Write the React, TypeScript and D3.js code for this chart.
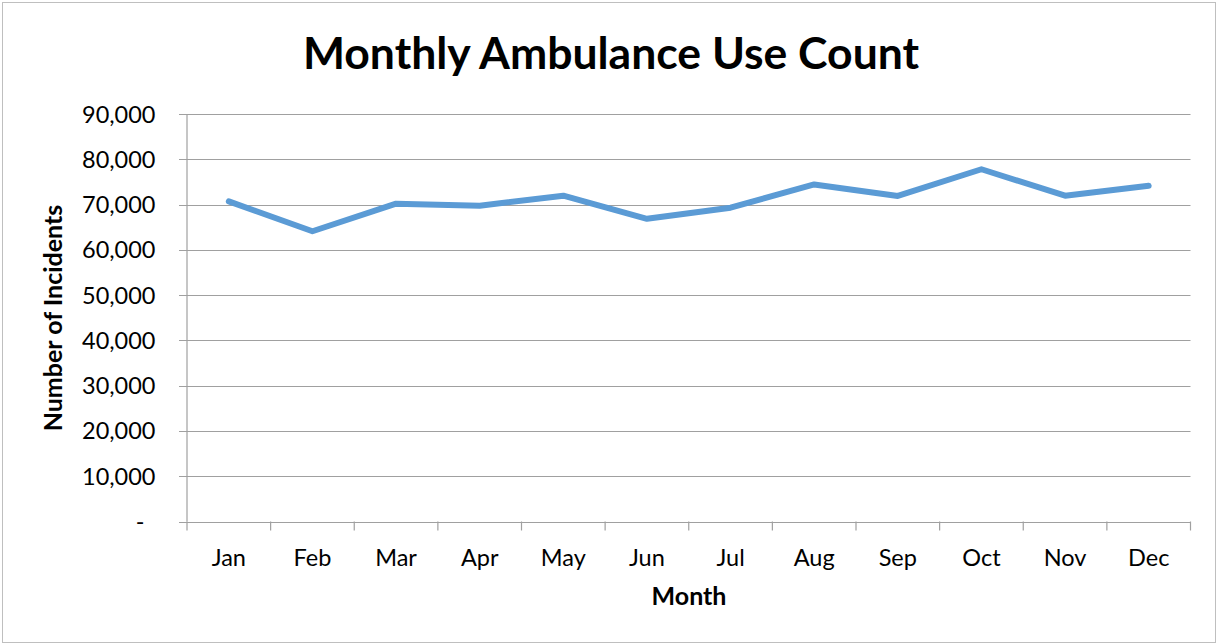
import React from "react";
import * as d3 from "d3";

const months = ["Jan", "Feb", "Mar", "Apr", "May", "Jun", "Jul", "Aug", "Sep", "Oct", "Nov", "Dec"];
const incidents = [70700, 64100, 70200, 69750, 71950, 66850, 69300, 74450, 71900, 77800, 71950, 74150];
const yTicks = [0, 10000, 20000, 30000, 40000, 50000, 60000, 70000, 80000, 90000];

const W = 1217;
const H = 644;
const left = 187;
const right = 1190.5;
const top = 114;
const bottom = 521.5;
const FONT = "Lato, 'Open Sans', sans-serif";

export default function App() {
  const x = d3.scaleBand<string>().domain(months).range([left, right]).padding(0);
  const y = d3.scaleLinear().domain([0, 90000]).range([bottom, top]);
  const line = d3
    .line<number>()
    .x((_, i) => (x(months[i]) as number) + x.bandwidth() / 2)
    .y((d) => y(d));
  const fmt = d3.format(",");
  const boundaries = d3.range(months.length + 1).map((i) => left + i * x.step());

  return (
    <svg width={W} height={H} style={{ position: "absolute", left: 0, top: 0, background: "#fff" }}>
      <rect x={2.5} y={2.5} width={W - 4} height={H - 4} fill="#fff" stroke="#BFBFBF" strokeWidth={1} />
      <text x={611} y={69} textAnchor="middle" fontFamily={FONT} fontWeight="bold" fontSize={44.5} fill="#000">
        Monthly Ambulance Use Count
      </text>
      {yTicks.map((t) => (
        <g key={t}>
          <line x1={left - 8} x2={right} y1={Math.round(y(t)) + 0.5} y2={Math.round(y(t)) + 0.5} stroke="#A0A0A0" strokeWidth={1.2} />
          <text
            x={t === 0 ? 140 : 155.5}
            y={y(t) + 8.5}
            textAnchor={t === 0 ? "middle" : "end"}
            fontFamily={FONT}
            fontSize={23.5}
            fill="#000"
          >
            {t === 0 ? "-" : fmt(t)}
          </text>
        </g>
      ))}
      <line x1={left} x2={left} y1={top} y2={bottom} stroke="#A0A0A0" strokeWidth={1.2} />
      {boundaries.map((b, i) => (
        <line key={i} x1={b} x2={b} y1={bottom} y2={bottom + 9} stroke="#A0A0A0" strokeWidth={1.2} />
      ))}
      {months.map((m) => (
        <text
          key={m}
          x={(x(m) as number) + x.bandwidth() / 2}
          y={565.5}
          textAnchor="middle"
          fontFamily={FONT}
          fontSize={23.5}
          fill="#000"
        >
          {m}
        </text>
      ))}
      <path d={line(incidents) || ""} fill="none" stroke="#5B9BD5" strokeWidth={6} strokeLinejoin="round" strokeLinecap="round" />
      <text x={689} y={605} textAnchor="middle" fontFamily={FONT} fontWeight="bold" fontSize={25} fill="#000">
        Month
      </text>
      <text
        transform={`translate(62,318) rotate(-90)`}
        textAnchor="middle"
        fontFamily={FONT}
        fontWeight="bold"
        fontSize={25}
        fill="#000"
      >
        Number of Incidents
      </text>
    </svg>
  );
}
